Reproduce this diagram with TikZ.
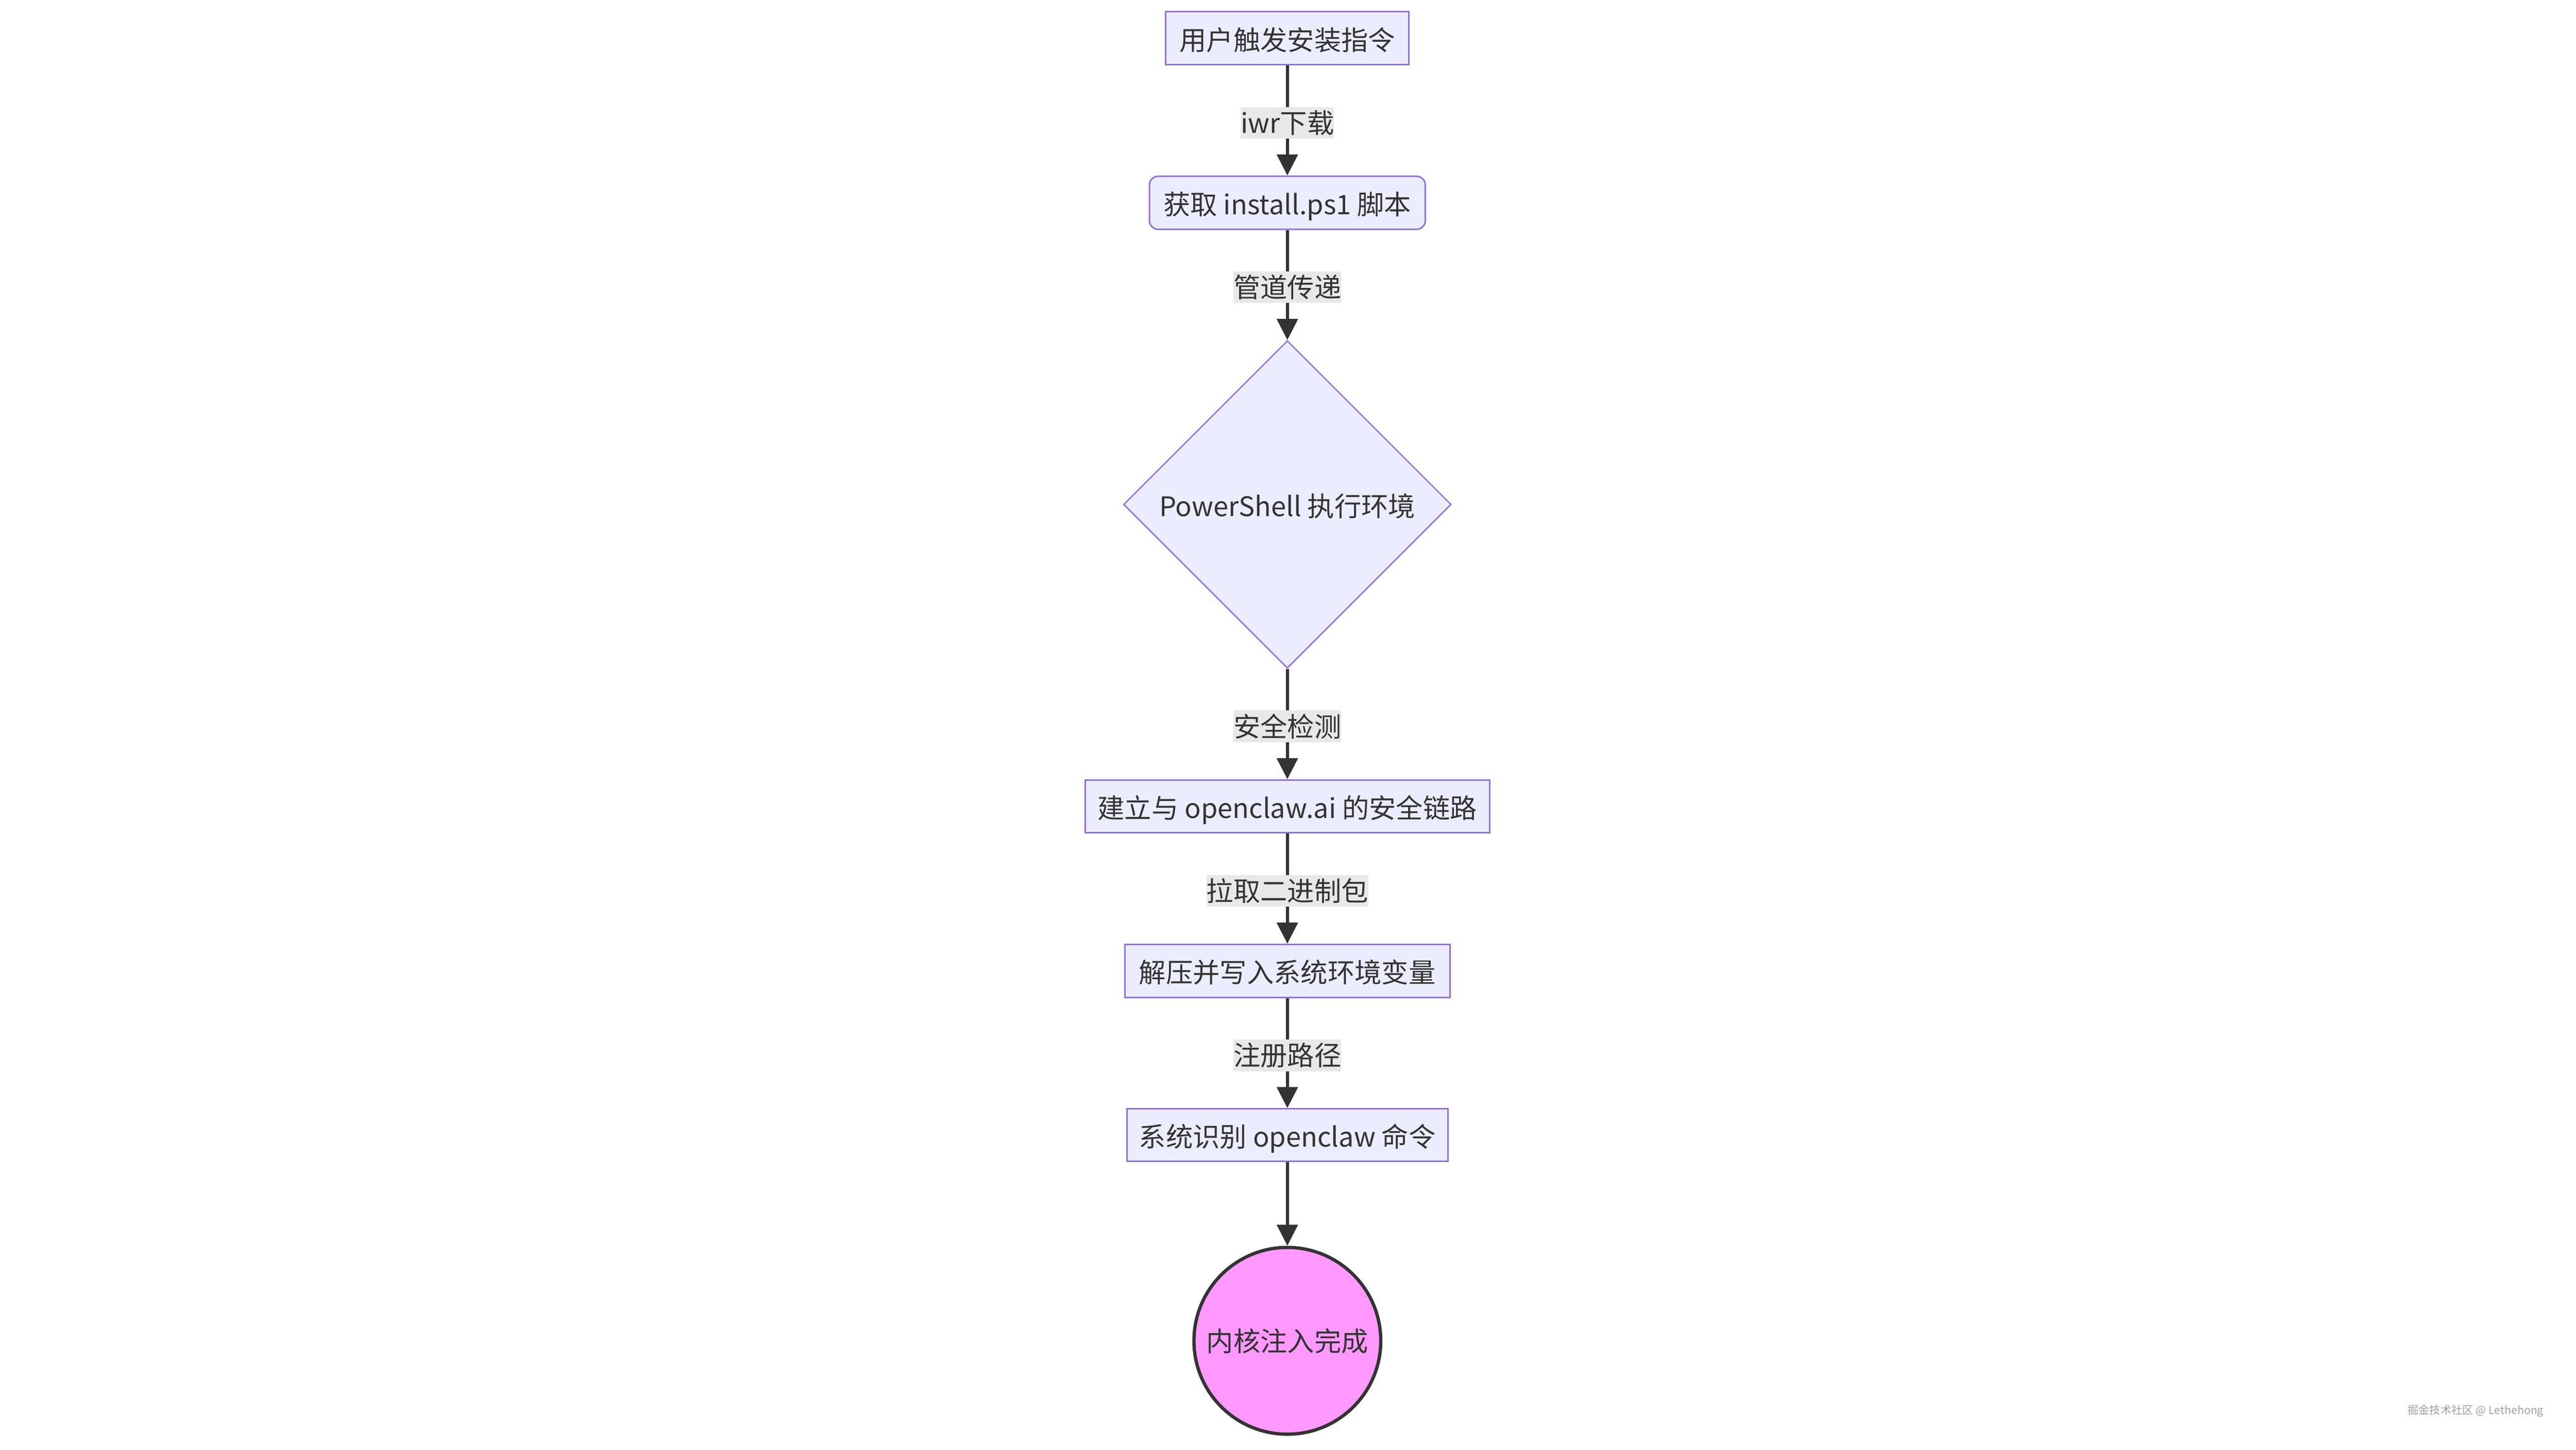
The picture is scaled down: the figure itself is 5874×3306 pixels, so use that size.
\documentclass[tikz,border=0pt]{standalone}
\usepackage{fontspec}
\setmainfont{Noto Sans CJK SC}
\usetikzlibrary{arrows.meta,shapes.geometric}
\definecolor{nodefill}{HTML}{ECECFF}
\definecolor{nodeborder}{HTML}{9370DB}
\definecolor{ink}{HTML}{333333}
\definecolor{lblbg}{HTML}{E8E8E8}
\definecolor{endfill}{HTML}{FF99FF}
\definecolor{wmark}{HTML}{A0A0A0}
\begin{document}
\begin{tikzpicture}[x=0.2pt, y=-0.2pt,
  font=\fontsize{12.3pt}{14pt}\selectfont, text=ink,
  lowtext/.style={text height=12.2pt, text depth=1.5pt},
  procbox/.style={draw=nodeborder, fill=nodefill, line width=0.7pt, inner sep=0pt, minimum height=24.2pt, lowtext},
  roundbox/.style={procbox, rounded corners=4pt},
  decision/.style={diamond, aspect=1, draw=nodeborder, fill=nodefill, line width=0.6pt, inner sep=0pt, minimum width=149.4pt, minimum height=149.4pt, lowtext},
  endcircle/.style={circle, draw=ink, fill=endfill, line width=1.5pt, minimum size=85.2pt, inner sep=0pt, text height=11pt, text depth=1.5pt},
  flow/.style={draw=ink, line width=1.5pt, -{Triangle[width=9.4pt,length=9.6pt]}},
  elabel/.style={fill=lblbg, text=ink, inner xsep=0pt, inner ysep=0pt, minimum height=14.4pt, pos=0.52}
]
\useasboundingbox (0,0) rectangle (5874,3306);
\fill[white] (0,0) rectangle (5874,3306);

\node[procbox, minimum width=111pt] (n1) at (2935.5,87.5) {用户触发安装指令};
\node[roundbox, minimum width=125.8pt] (n2) at (2935.5,462.5) {获取 install.ps1 脚本};
\node[decision] (n3) at (2935.5,1150.5) {PowerShell 执行环境};
\node[procbox, minimum width=184.4pt, minimum height=24pt] (n4) at (2935.5,1839) {建立与 openclaw.ai 的安全链路};
\node[procbox, minimum width=148.2pt] (n5) at (2935.5,2214.5) {解压并写入系统环境变量};
\node[procbox, minimum width=146.4pt, minimum height=24pt] (n6) at (2935.5,2589) {系统识别 openclaw 命令};
\node[endcircle] (n7) at (2935.5,3058) {内核注入完成};

\draw[flow] (n1) -- node[elabel] {iwr下载} (n2);
\draw[flow] (n2) -- node[elabel] {管道传递} (n3);
\draw[flow] (n3) -- node[elabel] {安全检测} (n4);
\draw[flow] (n4) -- node[elabel] {拉取二进制包} (n5);
\draw[flow] (n5) -- node[elabel] {注册路径} (n6);
\draw[flow] (n6) -- (n7);

\node[text=wmark, font=\fontsize{5pt}{6pt}\selectfont, inner sep=0pt] (wm) at (5645,3218) {掘金技术社区 @ Lethehong};
\end{tikzpicture}
\end{document}
